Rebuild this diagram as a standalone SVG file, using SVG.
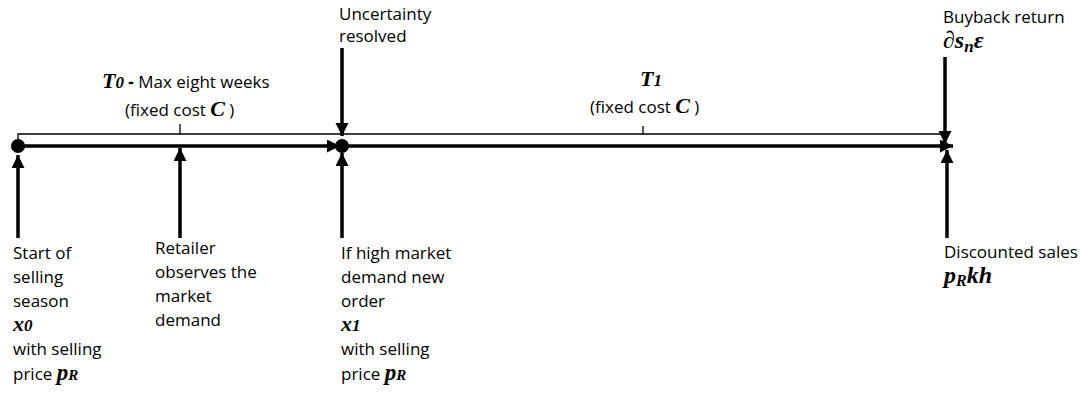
<svg xmlns="http://www.w3.org/2000/svg" width="1082" height="394" viewBox="0 0 1082 394">
<defs>
<marker id="ah" markerUnits="userSpaceOnUse" markerWidth="14" markerHeight="14" refX="13" refY="6.5" orient="auto">
<path d="M0,0 L13,6.5 L0,13 z" fill="#000"/>
</marker>
<style>
.lbl{font-family:"Open Sans","Liberation Sans",sans-serif;font-size:17px;fill:#000}
.m{font-family:"Liberation Serif","DejaVu Serif",serif;font-weight:bold;font-style:italic;fill:#000}
.thick{stroke:#000;stroke-width:3.5;fill:none}
.thin{stroke:#000;stroke-width:1.3;fill:none}
</style>
</defs>
<rect width="1082" height="394" fill="#fff"/>
<g id="connectors">
<path class="thin" d="M18,146 V134 H947"/>
<path class="thin" d="M180,134 V124"/>
<path class="thin" d="M643,134 V126"/>
<line class="thick" x1="18" y1="146" x2="340" y2="146" marker-end="url(#ah)"/>
<line class="thick" x1="342" y1="146" x2="953" y2="146" marker-end="url(#ah)"/>
<line class="thick" x1="18" y1="238" x2="18" y2="155" marker-end="url(#ah)"/>
<line class="thick" x1="180" y1="238" x2="180" y2="148" marker-end="url(#ah)"/>
<line class="thick" x1="342" y1="238" x2="342" y2="153" marker-end="url(#ah)"/>
<line class="thick" x1="947" y1="238" x2="947" y2="150" marker-end="url(#ah)"/>
<line class="thick" x1="342" y1="48" x2="342" y2="136" marker-end="url(#ah)"/>
<line class="thick" x1="945" y1="57" x2="945" y2="144" marker-end="url(#ah)"/>
</g>
<g id="node-t0">
<circle cx="18" cy="146" r="7" fill="#000"/>
</g>
<g id="node-t1">
<circle cx="342" cy="146" r="7" fill="#000"/>
</g>
<g id="label-T0">
<text x="102" y="88" class="m" font-size="22">T<tspan font-size="17">0</tspan><tspan class="lbl" font-style="normal" font-weight="bold"> -</tspan><tspan class="lbl" font-style="normal" font-weight="normal"> Max eight weeks</tspan></text>
<text x="125" y="116" class="lbl">(fixed cost <tspan class="m" font-size="22">C</tspan> )</text>
</g>
<g id="label-T1">
<text x="640" y="86" class="m" font-size="22">T<tspan font-size="17">1</tspan></text>
<text x="590" y="113" class="lbl">(fixed cost <tspan class="m" font-size="22">C</tspan> )</text>
</g>
<g id="label-uncertainty">
<text x="339" y="20" class="lbl">Uncertainty</text>
<text x="339" y="42" class="lbl">resolved</text>
</g>
<g id="label-buyback">
<text x="943" y="23" class="lbl">Buyback return</text>
<text x="943" y="48" class="m" font-size="24"><tspan font-style="normal">∂</tspan>s<tspan font-size="17" dy="4">n</tspan><tspan dy="-4">ε</tspan></text>
</g>
<g id="label-start">
<text x="13" y="259" class="lbl">Start of</text>
<text x="13" y="283" class="lbl">selling</text>
<text x="13" y="307" class="lbl">season</text>
<text x="13" y="331" class="m" font-size="22">x<tspan font-size="17">0</tspan></text>
<text x="13" y="355" class="lbl">with selling</text>
<text x="13" y="380" class="lbl">price <tspan class="m" font-size="23">p</tspan><tspan class="m" font-size="15">R</tspan></text>
</g>
<g id="label-retailer">
<text x="155" y="254" class="lbl">Retailer</text>
<text x="155" y="278" class="lbl">observes the</text>
<text x="155" y="302" class="lbl">market</text>
<text x="155" y="326" class="lbl">demand</text>
</g>
<g id="label-neworder">
<text x="341" y="259" class="lbl">If high market</text>
<text x="341" y="283" class="lbl">demand new</text>
<text x="341" y="307" class="lbl">order</text>
<text x="341" y="331" class="m" font-size="22">x<tspan font-size="17">1</tspan></text>
<text x="341" y="355" class="lbl">with selling</text>
<text x="341" y="380" class="lbl">price <tspan class="m" font-size="23">p</tspan><tspan class="m" font-size="15">R</tspan></text>
</g>
<g id="label-discounted">
<text x="944" y="258" class="lbl">Discounted sales</text>
<text x="944" y="283" class="m" font-size="24">p<tspan font-size="16" dy="3">R</tspan><tspan dy="-3">kh</tspan></text>
</g>
</svg>
